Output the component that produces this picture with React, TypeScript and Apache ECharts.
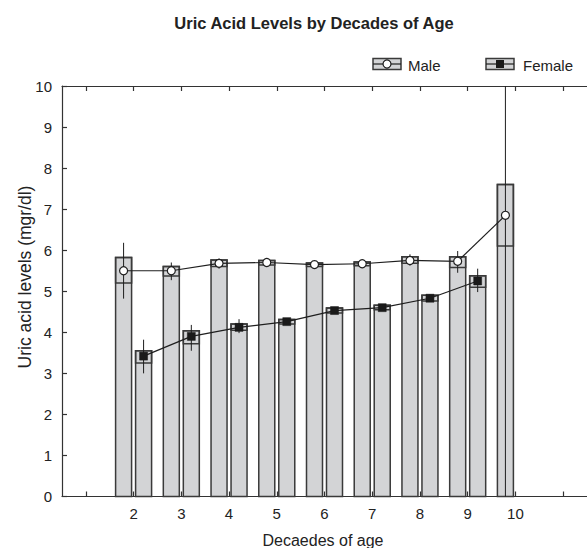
import React, { useEffect, useRef } from 'react';
import * as echarts from 'echarts';

// x categories (decades of age); 1 and 11 are empty padding slots
const categories = ['1', '2', '3', '4', '5', '6', '7', '8', '9', '10', '11'];
const tickLabels = ['2', '3', '4', '5', '6', '7', '8', '9', '10'];

// Male
const maleDecades = ['2', '3', '4', '5', '6', '7', '8', '9', '10'];
const maleMean = [5.5, 5.5, 5.68, 5.7, 5.65, 5.67, 5.75, 5.73, 6.85];
const maleBoxLow = [5.2, 5.37, 5.6, 5.64, 5.6, 5.62, 5.68, 5.58, 6.1];
const maleBoxHigh = [5.82, 5.6, 5.76, 5.75, 5.69, 5.71, 5.84, 5.84, 7.6];
const maleWhiskerLow = [4.82, 5.27, 5.55, 5.63, 5.6, 5.6, 5.62, 5.45, 0];
const maleWhiskerHigh = [6.18, 5.7, 5.8, 5.77, 5.7, 5.73, 5.9, 5.98, 10];

// Female
const femaleDecades = ['2', '3', '4', '5', '6', '7', '8', '9'];
const femaleMean = [3.42, 3.9, 4.12, 4.26, 4.53, 4.6, 4.83, 5.25];
const femaleBoxLow = [3.25, 3.72, 4.05, 4.2, 4.47, 4.55, 4.76, 5.1];
const femaleBoxHigh = [3.55, 4.04, 4.2, 4.31, 4.59, 4.66, 4.9, 5.38];
const femaleWhiskerLow = [3.0, 3.55, 3.98, 4.2, 4.47, 4.53, 4.74, 4.98];
const femaleWhiskerHigh = [3.82, 4.18, 4.32, 4.33, 4.6, 4.68, 4.92, 5.55];

const BAR_FILL = '#d3d4d6';
const EDGE = '#3a3a3a';
const INK = '#1e1e1e';
const FONT = "'Liberation Sans', Arial, Helvetica, sans-serif";

function buildData(dec: string[], mean: number[], lo: number[], hi: number[], wl: number[], wh: number[]) {
  return dec.map((d, i) => [categories.indexOf(d), mean[i], lo[i], hi[i], wl[i], wh[i]]);
}

const maleData = buildData(maleDecades, maleMean, maleBoxLow, maleBoxHigh, maleWhiskerLow, maleWhiskerHigh);
const femaleData = buildData(femaleDecades, femaleMean, femaleBoxLow, femaleBoxHigh, femaleWhiskerLow, femaleWhiskerHigh);

const BW = 16;

function boxRender(offset: number) {
  return (params: any, api: any) => {
    const xi = api.value(0);
    const base = api.coord([xi, 0]);
    const x = base[0] + offset;
    const y0 = base[1];
    const yLow = api.coord([xi, api.value(2)])[1];
    const yHigh = api.coord([xi, api.value(3)])[1];
    const wLo = api.coord([xi, api.value(4)])[1];
    const wHi = api.coord([xi, api.value(5)])[1];
    return {
      type: 'group',
      children: [
        {
          type: 'rect',
          shape: { x: x - BW / 2, y: yHigh, width: BW, height: y0 - yHigh },
          style: { fill: BAR_FILL, stroke: EDGE, lineWidth: 1.5 },
        },
        {
          type: 'rect',
          shape: { x: x - BW / 2, y: yHigh, width: BW, height: yLow - yHigh },
          style: { fill: 'none', stroke: EDGE, lineWidth: 1.5 },
        },
        {
          type: 'line',
          shape: { x1: x, y1: wHi, x2: x, y2: wLo },
          style: { stroke: INK, lineWidth: 1 },
        },
      ],
    };
  };
}

function lineRender(offset: number, data: number[][]) {
  return (params: any, api: any) => {
    const i = params.dataIndex;
    if (i >= data.length - 1) return { type: 'group', children: [] };
    const p1 = api.coord([data[i][0], data[i][1]]);
    const p2 = api.coord([data[i + 1][0], data[i + 1][1]]);
    return {
      type: 'line',
      shape: { x1: p1[0] + offset, y1: p1[1], x2: p2[0] + offset, y2: p2[1] },
      style: { stroke: INK, lineWidth: 1.2 },
    };
  };
}

function markerRender(offset: number, kind: 'circle' | 'square') {
  return (params: any, api: any) => {
    const p = api.coord([api.value(0), api.value(1)]);
    const x = p[0] + offset;
    if (kind === 'circle') {
      return {
        type: 'circle',
        shape: { cx: x, cy: p[1], r: 4 },
        style: { fill: '#ffffff', stroke: INK, lineWidth: 1.2 },
      };
    }
    return {
      type: 'rect',
      shape: { x: x - 4, y: p[1] - 4, width: 8, height: 8 },
      style: { fill: '#1a1a1a', stroke: '#1a1a1a', lineWidth: 0.5 },
    };
  };
}

function legendIcon(cx: number, cy: number, kind: 'circle' | 'square') {
  const w = 28;
  const h = 11;
  const children: any[] = [
    { type: 'rect', shape: { x: cx - w / 2, y: cy - h / 2, width: w, height: h }, style: { fill: BAR_FILL, stroke: EDGE, lineWidth: 1.5 } },
    { type: 'line', shape: { x1: cx - w / 2, y1: cy, x2: cx + w / 2, y2: cy }, style: { stroke: INK, lineWidth: 1.2 } },
  ];
  if (kind === 'circle') {
    children.push({ type: 'circle', shape: { cx, cy, r: 4 }, style: { fill: '#fff', stroke: INK, lineWidth: 1.2 } });
  } else {
    children.push({ type: 'rect', shape: { x: cx - 4, y: cy - 4, width: 8, height: 8 }, style: { fill: '#1a1a1a' } });
  }
  return { type: 'group', children };
}

export default function App() {
  const ref = useRef<HTMLDivElement>(null);
  useEffect(() => {
    if (!ref.current) return;
    const chart = echarts.init(ref.current, undefined, { renderer: 'svg' });
    const axisCommon = {
      type: 'category' as const,
      data: categories,
      boundaryGap: true,
      axisLine: { show: true, lineStyle: { color: '#333', width: 1.2 } },
      axisTick: { show: true, inside: true, alignWithLabel: true, interval: 0, length: 5, lineStyle: { color: '#333', width: 1.2 } },
      splitLine: { show: false },
    };
    chart.setOption({
      animation: false,
      backgroundColor: '#ffffff',
      grid: { left: 62, top: 86, width: 528, height: 410.5 },
      xAxis: [
        {
          ...axisCommon,
          position: 'bottom',
          axisLabel: {
            interval: 0,
            margin: 9,
            fontSize: 15,
            color: '#222',
            fontFamily: FONT,
            formatter: (v: string) => (tickLabels.includes(v) ? v : ''),
          },
        },
        {
          ...axisCommon,
          position: 'top',
          axisLabel: { show: false },
        },
      ],
      yAxis: {
        type: 'value',
        min: 0,
        max: 10,
        interval: 1,
        axisLine: { show: true, lineStyle: { color: '#333', width: 1.2 } },
        axisTick: { show: true, inside: true, length: 5, lineStyle: { color: '#333', width: 1.2 } },
        axisLabel: { fontSize: 15, color: '#222', fontFamily: FONT, margin: 10 },
        splitLine: { show: false },
      },
      graphic: [
        {
          type: 'text',
          x: 314,
          y: 23,
          style: { text: 'Uric Acid Levels by Decades of Age', font: `bold 16.5px ${FONT}`, fill: '#222', align: 'center', verticalAlign: 'middle' },
        },
        {
          type: 'text',
          x: 323,
          y: 540,
          style: { text: 'Decaedes of age', font: `16px ${FONT}`, fill: '#222', align: 'center', verticalAlign: 'middle' },
        },
        {
          type: 'text',
          x: 25,
          y: 277,
          rotation: Math.PI / 2,
          style: { text: 'Uric acid levels (mgr/dl)', font: `17.5px ${FONT}`, fill: '#222', align: 'center', verticalAlign: 'middle' },
        },
        legendIcon(387, 64, 'circle'),
        {
          type: 'text',
          x: 408,
          y: 65,
          style: { text: 'Male', font: `15px ${FONT}`, fill: '#222', verticalAlign: 'middle' },
        },
        legendIcon(500, 64, 'square'),
        {
          type: 'text',
          x: 523,
          y: 65,
          style: { text: 'Female', font: `15px ${FONT}`, fill: '#222', verticalAlign: 'middle' },
        },
      ],
      series: [
        { type: 'custom', name: 'MaleBox', data: maleData, renderItem: boxRender(-10), encode: { x: 0, y: 1 }, z: 2 },
        { type: 'custom', name: 'FemaleBox', data: femaleData, renderItem: boxRender(10), encode: { x: 0, y: 1 }, z: 2 },
        { type: 'custom', name: 'MaleLine', data: maleData, renderItem: lineRender(-10, maleData), encode: { x: 0, y: 1 }, z: 3 },
        { type: 'custom', name: 'FemaleLine', data: femaleData, renderItem: lineRender(10, femaleData), encode: { x: 0, y: 1 }, z: 3 },
        { type: 'custom', name: 'Male', data: maleData, renderItem: markerRender(-10, 'circle'), encode: { x: 0, y: 1 }, z: 4 },
        { type: 'custom', name: 'Female', data: femaleData, renderItem: markerRender(10, 'square'), encode: { x: 0, y: 1 }, z: 4 },
      ],
    });
    return () => chart.dispose();
  }, []);
  return <div ref={ref} style={{ position: 'fixed', left: 0, top: 0, width: 587, height: 548 }} />;
}
